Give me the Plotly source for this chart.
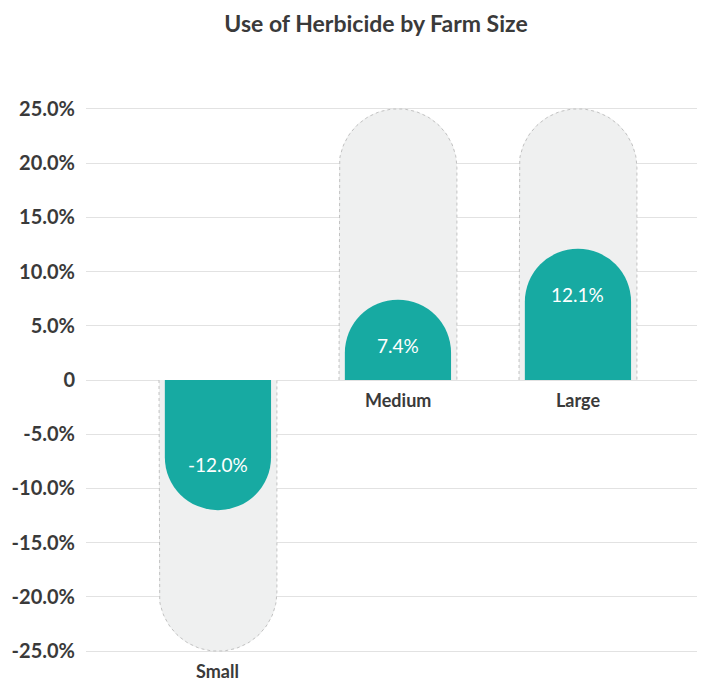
import numpy as np
import plotly.graph_objects as go

categories = ["Small", "Medium", "Large"]
values = [-12.0, 7.4, 12.1]
background = [-25.0, 25.0, 25.0]
value_labels = ["-12.0%", "7.4%", "12.1%"]
tick_vals = [25, 20, 15, 10, 5, 0, -5, -10, -15, -20, -25]
tick_text = ["25.0%", "20.0%", "15.0%", "10.0%", "5.0%", "0",
             "-5.0%", "-10.0%", "-15.0%", "-20.0%", "-25.0%"]

TEAL = "#17aaa2"
BG = "#eff0f0"
DARK = "#3a3a3a"
FONT = "Lato"

# layout geometry (page has an 8px body margin, figure sized to fit)
W, H = 697, 676
ML, MR, MT, MB = 78, 5, 90, 22
XR = [-0.733, 2.678]
YR = [-26, 26]
BG_W = 0.655
FG_W = 0.59

px_x = (W - ML - MR) / (XR[1] - XR[0])
px_y = (H - MT - MB) / (YR[1] - YR[0])
pos = list(range(len(categories)))

fig = go.Figure()
fig.add_trace(go.Bar(
    x=pos, y=background, width=BG_W,
    marker=dict(color=BG, line=dict(width=0), cornerradius="50%"),
    hoverinfo="skip", showlegend=False,
))

# dotted outline of the background capsules
ox, oy = [], []
for i, bg in zip(pos, background):
    hw = BG_W / 2
    r_y = hw * px_x / px_y
    s = 1 if bg > 0 else -1
    cy = bg - s * r_y
    th = np.linspace(np.pi, 0, 60)
    ox += [i - hw] + list(i + hw * np.cos(th)) + [i + hw, None]
    oy += [0] + list(cy + s * r_y * np.sin(th)) + [0, None]
fig.add_trace(go.Scatter(
    x=ox, y=oy, mode="lines", line=dict(color="#c2c2c2", width=1, dash="dot"),
    hoverinfo="skip", showlegend=False,
))

fig.add_trace(go.Bar(
    x=pos, y=values, width=FG_W, xaxis="x2",
    marker=dict(color=TEAL, line=dict(width=0), cornerradius="50%"),
    hoverinfo="skip", showlegend=False,
))

for i, v, lab in zip(pos, values, value_labels):
    fig.add_annotation(
        x=i, y=v, xref="x2", text=lab, showarrow=False,
        yanchor="middle", yshift=-46 if v > 0 else 46,
        font=dict(size=19, color="white", family=FONT),
    )

for i, cat, bg in zip(pos, categories, background):
    fig.add_annotation(
        x=i, y=min(0, bg), text="<b>%s</b>" % cat, showarrow=False,
        yanchor="top", yshift=-7,
        font=dict(size=18, color=DARK, family=FONT),
    )

fig.update_layout(
    width=W, height=H,
    barmode="overlay",
    paper_bgcolor="white", plot_bgcolor="white",
    margin=dict(l=ML, r=MR, t=MT, b=MB),
    title=dict(text="<b>Use of Herbicide by Farm Size</b>", x=0.528, xanchor="center",
               y=1 - 16 / H, yanchor="middle",
               font=dict(size=23, color=DARK, family=FONT)),
    xaxis=dict(range=XR, showticklabels=False, showgrid=False,
               zeroline=False, showline=False),
    xaxis2=dict(range=XR, overlaying="x", visible=False),
    yaxis=dict(range=YR, tickvals=tick_vals, ticktext=tick_text,
               showgrid=True, gridcolor="#e2e2e2", gridwidth=1,
               zeroline=True, zerolinecolor="#e2e2e2", zerolinewidth=1,
               ticklabelstandoff=10,
               tickfont=dict(size=20, color=DARK, family=FONT, weight="bold")),
)

fig.write_html("out.html")
